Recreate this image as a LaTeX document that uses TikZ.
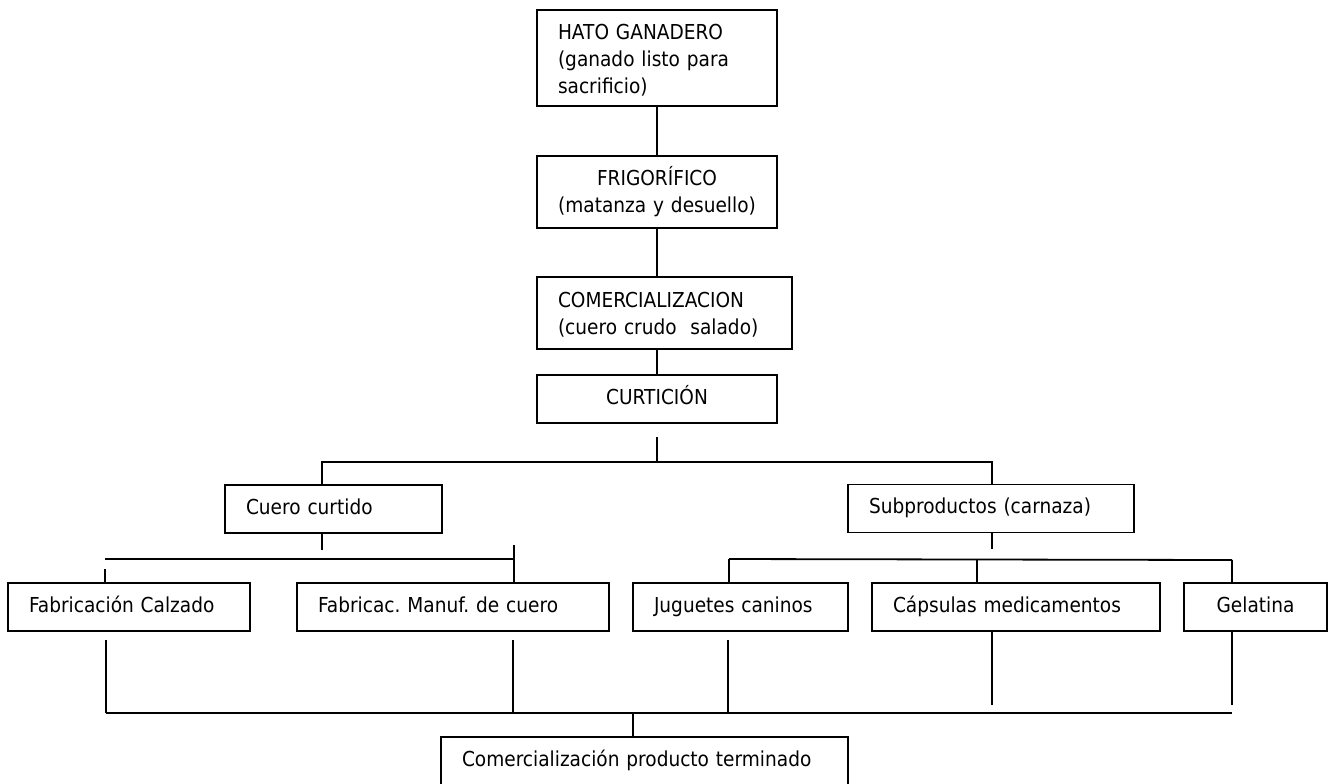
\documentclass[tikz,border=0pt]{standalone}
\usepackage{fontspec}
\setmainfont{DejaVu Sans}[FakeStretch=0.9]
\usetikzlibrary{positioning}

\begin{document}
\begin{tikzpicture}[
  x=0.5pt, y=-0.5pt,
  box/.style={draw, line width=0.9pt, align=left, inner xsep=10.5pt,
    minimum height=24pt, font=\fontsize{10.3pt}{13.5pt}\selectfont\frenchspacing,
    execute at begin node=\strut},
  cbox/.style={box, align=center},
  link/.style={line width=0.9pt}
]
\useasboundingbox (0,0) rectangle (1331,783);

\node[box, text width=99pt, minimum height=48pt] (hato) at (657,58)
  {HATO GANADERO\\(ganado listo para\\sacrificio)};
\node[cbox, text width=99pt, minimum height=36pt] (frigo) at (657,192)
  {FRIGORÍFICO\\(matanza y desuello)};
\node[box, text width=106.5pt, minimum height=36pt] (comer) at (664.5,313)
  {COMERCIALIZACION\\(cuero crudo\ \ salado)};
\node[cbox, text width=99pt] (curt) at (657,399) {CURTICIÓN};

\node[box, text width=87.5pt] (cuero) at (333.5,509) {Cuero curtido};
\node[box, text width=122pt] (subp) at (991,508.5) {Subproductos (carnaza)};

\node[box, text width=100pt] (calzado) at (129,607) {Fabricación Calzado};
\node[box, text width=135pt] (manuf) at (453,607) {Fabricac. Manuf. de cuero};
\node[box, text width=86.5pt] (juguetes) at (740.5,607) {Juguetes caninos};
\node[box, text width=123pt] (capsulas) at (1016,607) {Cápsulas medicamentos};
\node[cbox, text width=50.5pt] (gelatina) at (1255.5,607) {Gelatina};

\node[box, text width=182.5pt] (final) at (644.5,761) {Comercialización producto terminado};

\coordinate (lbus) at (322,462);
\coordinate (rbus) at (992,462);
\coordinate (cbus-l) at (105,559);
\coordinate (cbus-r) at (514,559);
\coordinate (sbus-l) at (729,559);
\coordinate (sbus-m) at (977,559);
\coordinate (sbus-r) at (1232,560);
\coordinate (bbus-l) at (106,713);
\coordinate (bbus-b) at (513,713);
\coordinate (bbus-f) at (633,713);
\coordinate (bbus-c) at (728,713);
\coordinate (bbus-d) at (992,713);
\coordinate (bbus-r) at (1232,713);

\draw[link] (hato) -- (frigo);
\draw[link] (frigo.south) -- (frigo.south |- comer.north);
\draw[link] (curt.north |- comer.south) -- (curt.north);
\draw[link] (curt.south) ++(0,13) -- (curt.south |- lbus);
\draw[link] (cuero.north -| lbus) -- (lbus) -- (rbus) -- (subp.north -| rbus);

\draw[link] (cuero.south -| lbus) -- ++(0,16);
\draw[link] (cbus-l) -- (cbus-r);
\draw[link] (calzado.north -| cbus-l) -- ++(0,-13);
\draw[link] (manuf.north -| cbus-r) -- ++(0,-37);

\draw[link] (subp.south -| rbus) -- ++(0,16);
\draw[link] (sbus-l) -- (sbus-r);
\draw[link] (juguetes.north -| sbus-l) -- (sbus-l);
\draw[link] (capsulas.north -| sbus-m) -- (sbus-m);
\draw[link] (gelatina.north -| sbus-r) -- (sbus-r);

\draw[link] (bbus-l) -- (bbus-r);
\draw[link] (calzado.south -| bbus-l) ++(0,8) -- (bbus-l);
\draw[link] (manuf.south -| bbus-b) ++(0,8) -- (bbus-b);
\draw[link] (juguetes.south -| bbus-c) ++(0,8) -- (bbus-c);
\draw[link] (capsulas.south -| bbus-d) -- ++(0,73);
\draw[link] (gelatina.south -| bbus-r) -- ++(0,73);
\draw[link] (bbus-f) -- (final.north -| bbus-f);
\end{tikzpicture}
\end{document}
